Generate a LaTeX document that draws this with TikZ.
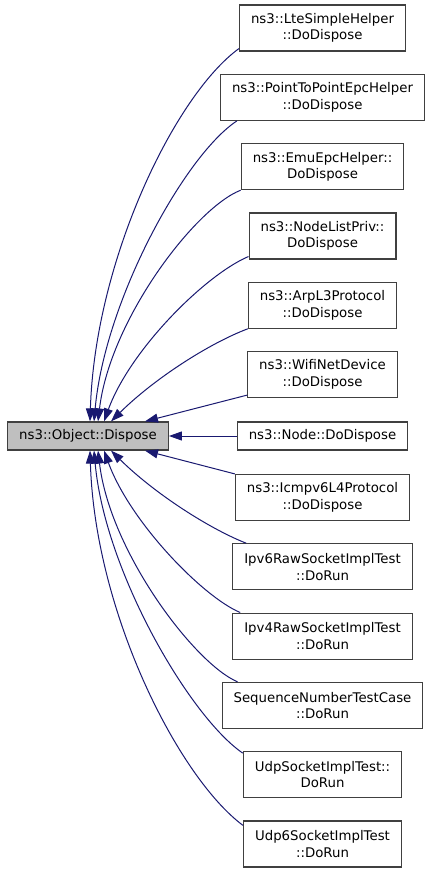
\documentclass[tikz,border=0pt]{standalone}
\usepackage{fontspec}
\setmainfont{DejaVu Sans}
\usepackage{tikz}
\usepackage{xcolor}
\usetikzlibrary{arrows.meta}

\definecolor{edgeblue}{HTML}{191970}
\definecolor{boxline}{HTML}{404040}
\definecolor{mainfill}{HTML}{BFBFBF}

\begin{document}
\begin{tikzpicture}[x=1pt,y=-1pt,
        box/.style={draw=boxline,line width=1.2pt,align=center,inner xsep=11.5pt,inner ysep=0pt,
            minimum height=46pt,font=\fontsize{13.3pt}{16.5pt}\selectfont},
        onebox/.style={box,minimum height=28pt},
        mainbox/.style={onebox,fill=mainfill},
        link/.style={edgeblue,line width=1pt,-{Triangle[length=13pt,width=9pt]}}]
    \useasboundingbox (0,0) rectangle (432,872);
    % the function being called
    \node[mainbox] (dispose) at (88,436) {ns3::Object::Dispose};
    % callers
    \node[box] (lte) at (322.5,28) {ns3::LteSimpleHelper\\::DoDispose};
    \node[box] (p2p) at (322.5,97.3) {ns3::PointToPointEpcHelper\\::DoDispose};
    \node[box] (emu) at (322.5,166.6) {ns3::EmuEpcHelper::\\DoDispose};
    \node[box] (nlp) at (322.5,235.9) {ns3::NodeListPriv::\\DoDispose};
    \node[box] (arp) at (322.5,305.2) {ns3::ArpL3Protocol\\::DoDispose};
    \node[box] (wifi) at (322.5,374.5) {ns3::WifiNetDevice\\::DoDispose};
    \node[onebox] (ndisp) at (322.5,436) {ns3::Node::DoDispose};
    \node[box] (icmp) at (322.5,497.5) {ns3::Icmpv6L4Protocol\\::DoDispose};
    \node[box] (rawsix) at (322.5,566.8) {Ipv6RawSocketImplTest\\::DoRun};
    \node[box] (rawfour) at (322.5,636.1) {Ipv4RawSocketImplTest\\::DoRun};
    \node[box] (seqnum) at (322.5,705.4) {SequenceNumberTestCase\\::DoRun};
    \node[box] (udp) at (322.5,774.7) {UdpSocketImplTest::\\DoRun};
    \node[box] (udpsix) at (322.5,844) {Udp6SocketImplTest\\::DoRun};
    % edges above
    \draw[link] ([yshift=3pt]lte.south west) .. controls (175,95) and (95,260) .. ([xshift=2pt]dispose.north);
    \draw[link] ([xshift=17pt]p2p.south west) .. controls (185,155) and (105,300) .. ([xshift=6pt]dispose.north);
    \draw[link] (emu.south west) .. controls (195,208) and (110,320) .. ([xshift=10pt]dispose.north);
    \draw[link] ([yshift=3pt]nlp.south west) .. controls (205,275) and (130,350) .. ([xshift=16pt]dispose.north);
    \draw[link] (arp.south west) .. controls (210,343) and (155,378) .. ([xshift=23pt]dispose.north);
    \draw[link] ([yshift=3pt]wifi.south west) -- ([xshift=57pt]dispose.north);
    \draw[link] (ndisp.west) -- (dispose.east);
    % edges below
    \draw[link] (icmp.north west) -- ([xshift=57pt]dispose.south);
    \draw[link] ([xshift=14pt]rawsix.north west) .. controls (210,529) and (155,494) .. ([xshift=23pt]dispose.south);
    \draw[link] ([xshift=8pt]rawfour.north west) .. controls (203,597) and (130,522) .. ([xshift=16pt]dispose.south);
    \draw[link] ([xshift=16pt]seqnum.north west) .. controls (195,664) and (110,552) .. ([xshift=10pt]dispose.south);
    \draw[link] ([yshift=-2pt]udp.north west) .. controls (190,717) and (105,572) .. ([xshift=6pt]dispose.south);
    \draw[link] ([yshift=-5pt]udpsix.north west) .. controls (178,777) and (95,612) .. ([xshift=2pt]dispose.south);
\end{tikzpicture}
\end{document}
